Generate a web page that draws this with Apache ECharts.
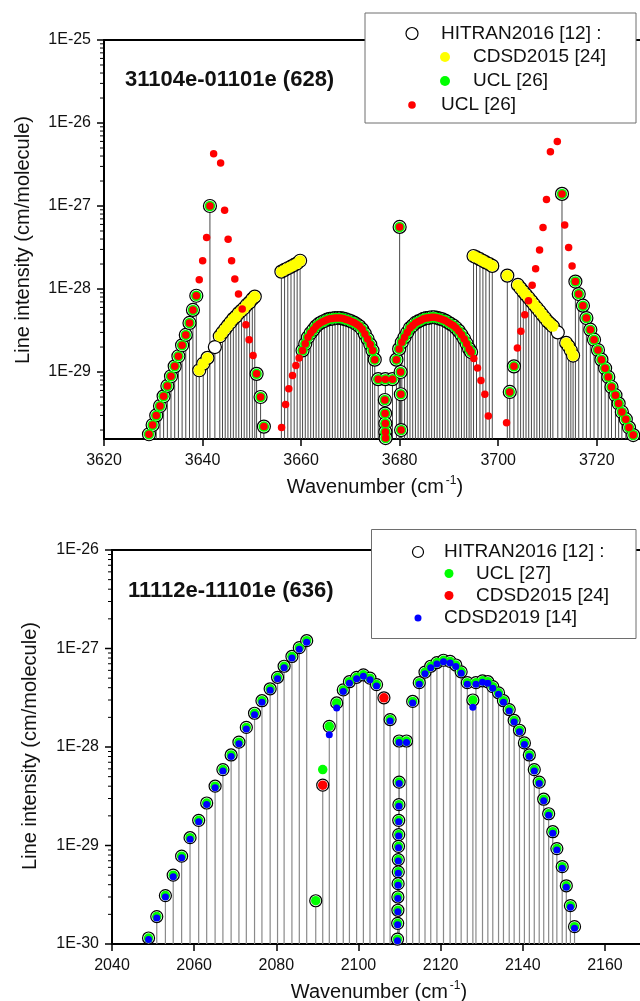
<!DOCTYPE html>
<html><head><meta charset="utf-8">
<script src="https://cdn.jsdelivr.net/npm/echarts@6/dist/echarts.min.js"></script>
<style>html,body{margin:0;padding:0;background:#fff}#c{width:640px;height:1001px}</style>
</head><body><div id="c"></div>
<script>
// ================= Panel 1 : 31104e-01101e (628) =================
// HITRAN lines that coincide with UCL (green + red dot)
const ucl628 = [
 [3629.13,1.78e-30],[3629.87,2.3e-30],[3630.6,3.0e-30],[3631.37,3.9e-30],[3632.1,5.1e-30],[3632.86,6.8e-30],
 [3633.6,8.9e-30],[3634.35,1.17e-29],[3635.1,1.55e-29],[3635.85,2.1e-29],[3636.6,2.8e-29],[3637.35,3.9e-29],
 [3638.05,5.6e-29],[3638.73,8.3e-29],
 [3641.5,1.0e-27],
 [3650.97,9.5e-30],[3651.78,5.0e-30],[3652.45,2.2e-30],
 [3660.3,1.82e-29],[3660.85,2.19e-29],[3661.4,2.63e-29],[3661.95,2.95e-29],[3662.5,3.24e-29],[3663.05,3.55e-29],
 [3663.6,3.8e-29],[3664.15,3.98e-29],[3664.7,4.12e-29],[3665.25,4.27e-29],[3665.8,4.37e-29],[3666.35,4.4e-29],
 [3666.9,4.47e-29],[3667.45,4.47e-29],[3668.0,4.47e-29],[3668.55,4.4e-29],[3669.1,4.3e-29],[3669.65,4.2e-29],
 [3670.2,4.07e-29],[3670.75,3.94e-29],[3671.3,3.76e-29],[3671.85,3.55e-29],[3672.4,3.27e-29],[3672.95,2.88e-29],
 [3673.5,2.5e-29],[3674.05,2.14e-29],[3674.5,1.82e-29],[3674.95,1.41e-29],
 [3675.65,8.2e-30],[3677.1,8.2e-30],[3678.55,8.2e-30],
 [3677.0,4.6e-30],[3677.05,3.16e-30],[3677.1,2.4e-30],[3677.1,1.9e-30],[3677.15,1.6e-30],
 [3680.2,1.0e-29],[3680.25,5.4e-30],[3680.3,2.0e-30],
 [3680.0,5.6e-28],
 [3679.35,1.41e-29],[3679.9,1.9e-29],[3680.45,2.29e-29],[3681.0,2.63e-29],[3681.55,3.0e-29],[3682.1,3.39e-29],
 [3682.65,3.63e-29],[3683.2,3.9e-29],[3683.75,4.07e-29],[3684.3,4.2e-29],[3684.85,4.37e-29],[3685.4,4.47e-29],
 [3685.95,4.5e-29],[3686.5,4.57e-29],[3687.05,4.57e-29],[3687.6,4.5e-29],[3688.15,4.4e-29],[3688.7,4.3e-29],
 [3689.25,4.17e-29],[3689.8,3.98e-29],[3690.35,3.8e-29],[3690.9,3.63e-29],[3691.45,3.39e-29],[3692.0,3.13e-29],
 [3692.55,2.82e-29],[3693.1,2.5e-29],[3693.6,2.19e-29],[3694.1,1.9e-29],[3694.5,1.74e-29],
 [3702.35,5.75e-30],[3703.2,1.17e-29],
 [3712.95,1.4e-27],
 [3715.67,1.23e-28],[3716.35,8.7e-29],[3717.2,6.3e-29],[3717.9,4.47e-29],[3718.7,3.24e-29],[3719.45,2.45e-29],
 [3720.25,1.84e-29],[3720.95,1.41e-29],[3721.7,1.11e-29],[3722.35,8.7e-30],[3723.0,6.6e-30],[3723.8,5.25e-30],
 [3724.45,4.17e-30],[3725.1,3.3e-30],[3725.9,2.7e-30],[3726.55,2.14e-30],[3727.4,1.74e-30]
];
// UCL lines without a HITRAN counterpart (red dots only)
const uclOnly628 = [
 [3639.33,1.29e-28],[3640.02,2.19e-28],[3640.83,4.17e-28],[3642.25,4.27e-27],[3643.67,3.3e-27],[3644.48,8.9e-28],
 [3645.19,3.98e-28],[3645.9,2.19e-28],[3646.55,1.32e-28],[3647.3,8.7e-29],[3648.05,5.75e-29],[3648.8,3.7e-29],
 [3649.45,2.45e-29],[3650.26,1.58e-29],
 [3656.04,2.14e-30],[3656.85,4.07e-30],[3657.5,6.3e-30],[3658.26,9.1e-30],[3658.94,1.2e-29],[3659.6,1.48e-29],
 [3695.05,1.46e-29],[3695.8,1.12e-29],[3696.5,7.9e-30],[3697.3,5.4e-30],[3698.0,2.95e-30],
 [3701.7,2.45e-30],
 [3703.9,1.95e-29],[3704.6,3.1e-29],[3705.4,4.9e-29],[3706.15,7.2e-29],[3706.9,1.11e-28],[3707.6,1.76e-28],
 [3708.4,2.95e-28],[3709.1,5.5e-28],[3709.8,1.2e-27],[3710.6,4.5e-27],[3712.0,6.0e-27],
 [3713.5,5.9e-28],[3714.3,3.16e-28],[3715.0,1.9e-28]
];
// HITRAN lines that coincide with CDSD2015 (yellow)
const cdsd2015_628 = [
 [3639.33,1.05e-29],[3640.14,1.26e-29],[3641.0,1.48e-29],
 [3643.5,2.7e-29],[3644.05,3.0e-29],[3644.6,3.3e-29],[3645.15,3.63e-29],[3645.7,3.98e-29],[3646.25,4.37e-29],
 [3646.8,4.68e-29],[3647.35,5.13e-29],[3647.9,5.5e-29],[3648.45,5.9e-29],[3649.0,6.46e-29],[3649.55,6.9e-29],
 [3650.1,7.6e-29],[3650.6,8.1e-29],
 [3656.0,1.62e-28],[3656.65,1.7e-28],[3657.3,1.78e-28],[3657.95,1.86e-28],[3658.6,1.95e-28],[3659.2,2.04e-28],[3659.8,2.19e-28],
 [3695.0,2.5e-28],[3695.6,2.4e-28],[3696.3,2.29e-28],[3696.9,2.19e-28],[3697.5,2.09e-28],[3698.2,2.0e-28],[3698.8,1.9e-28],
 [3701.85,1.45e-28],
 [3704.0,1.12e-28],[3704.55,1.02e-28],[3705.1,9.3e-29],[3705.65,8.5e-29],[3706.2,7.8e-29],[3706.75,7.1e-29],
 [3707.3,6.46e-29],[3707.85,5.9e-29],[3708.4,5.4e-29],[3708.95,4.9e-29],[3709.5,4.47e-29],[3710.05,4.07e-29],
 [3710.6,3.8e-29],[3711.1,3.55e-29],
 [3713.8,2.24e-29],[3714.3,2.04e-29],[3714.75,1.82e-29],[3715.2,1.58e-29]
];
// HITRAN lines with no match (open circles only)
const hitranOnly628 = [[3642.5,2.0e-29],[3712.1,3.0e-29]];
const yTicks628 = [1e-29,1e-28,1e-27,1e-26,1e-25];

// ================= Panel 2 : 11112e-11101e (636) =================
const hitran636 = [
 [2048.9,1.15e-30],[2050.9,1.9e-30],[2053.0,3.1e-30],[2054.9,5.0e-30],[2056.95,7.8e-30],[2059.0,1.2e-29],
 [2061.1,1.8e-29],[2063.05,2.7e-29],[2065.1,4.0e-29],[2067.0,5.9e-29],[2069.0,8.3e-29],[2070.9,1.12e-28],
 [2072.7,1.58e-28],[2074.7,2.2e-28],[2076.5,2.95e-28],[2078.5,3.9e-28],[2080.3,5.1e-28],[2081.9,6.6e-28],
 [2083.8,8.3e-28],[2085.6,1.02e-27],[2087.4,1.2e-27],
 [2089.6,2.75e-30],[2091.3,4.1e-29],[2092.9,1.62e-28],[2094.7,2.8e-28],[2096.3,3.8e-28],[2097.8,4.6e-28],
 [2099.55,5.1e-28],[2101.2,5.4e-28],[2102.8,5.0e-28],[2104.4,4.3e-28],[2106.2,3.16e-28],[2107.7,1.9e-28],
 [2109.9,1.15e-28],[2111.7,1.15e-28],
 [2109.9,4.4e-29],[2109.85,2.6e-29],[2109.8,1.8e-29],[2109.8,1.29e-29],[2109.75,9.8e-30],[2109.7,7.2e-30],
 [2109.7,5.4e-30],[2109.65,4.1e-30],[2109.6,3.0e-30],[2109.6,2.2e-30],[2109.55,1.62e-30],[2109.5,1.12e-30],
 [2113.2,2.9e-28],[2114.8,4.5e-28],[2116.2,5.75e-28],[2117.6,6.6e-28],[2119.1,7.2e-28],[2120.7,7.6e-28],
 [2122.3,7.4e-28],[2123.7,6.8e-28],[2125.0,5.8e-28],[2126.5,4.5e-28],[2127.85,3.0e-28],
 [2128.6,4.5e-28],[2130.2,4.7e-28],[2131.5,4.6e-28],[2132.7,4.1e-28],[2134.1,3.55e-28],[2135.3,2.95e-28],
 [2136.7,2.4e-28],[2137.9,1.86e-28],[2139.2,1.48e-28],[2140.4,1.1e-28],[2141.6,8.3e-29],[2142.8,5.9e-29],
 [2144.0,4.4e-29],[2145.1,2.95e-29],[2146.3,2.1e-29],[2147.3,1.38e-29],[2148.3,9.3e-30],[2149.6,6.1e-30],
 [2150.6,3.9e-30],[2151.6,2.45e-30],[2152.6,1.5e-30]
];
const cdsd2015_636 = [[2091.3,4.1e-29],[2106.2,3.16e-28]];          // HITRAN = CDSD2015 (red)
const uclOnly636 = [[2091.3,5.9e-29]];                               // UCL line off the HITRAN value
const cdsd2019Diff636 = [[2092.9,1.38e-28],[2094.7,2.57e-28],[2127.85,2.63e-28]]; // CDSD2019 below HITRAN
const noCdsd2019_636 = [2089.6];                                     // HITRAN+UCL only
const yTicks636 = [1e-30,1e-29,1e-28,1e-27,1e-26];

// ---- axes setup ----
const X628 = {min:3620, max:3730, step:20};
const Y628 = {min:1.56e-30, max:1e-25};
const X636 = {min:2040, max:2170, step:20};
const Y636 = {min:1e-30, max:1e-26};

// ---- derived series data ----
const hitran628 = ucl628.concat(cdsd2015_628, hitranOnly628);
const red628 = ucl628.concat(uclOnly628);
const same = (a,b)=>Math.abs(a-b)<1e-6;
const ucl636 = hitran636.filter(p=>!cdsd2015_636.some(q=>same(q[0],p[0]))).concat(uclOnly636);
const cdsd2019_636 = hitran636.filter(p=>!cdsd2015_636.some(q=>same(q[0],p[0]))
   && !noCdsd2019_636.some(x=>same(x,p[0])) && !cdsd2019Diff636.some(q=>same(q[0],p[0]))).concat(cdsd2019Diff636);

const FONT = '"Liberation Sans", Arial, Helvetica, sans-serif';
function expLabel(v){ const e=Math.log10(v); const r=Math.round(e); return Math.abs(e-r)<1e-3 ? '1E'+r : ''; }
function minorTicks(lo,hi){ const out=[]; for(let e=Math.floor(Math.log10(lo)); e<Math.log10(hi); e++){ for(let m=2;m<=9;m++){ const v=m*Math.pow(10,e); if(v>lo && v<hi) out.push(v);} } return out; }

function stems(data, gi, yMin, color, w){
  return {type:'custom', xAxisIndex:gi*2, yAxisIndex:gi, clip:true, silent:true, z:1, animation:false, data,
    renderItem:(p,api)=>{ const t=api.coord([api.value(0),api.value(1)]); const b=api.coord([api.value(0),yMin]);
      return {type:'line', shape:{x1:t[0],y1:b[1],x2:t[0],y2:t[1]}, style:{stroke:color,lineWidth:w}}; }};
}
function minorTickSeries(gi, xMin, lo, hi){
  return {type:'custom', xAxisIndex:gi*2, yAxisIndex:gi, clip:false, silent:true, z:3, animation:false,
    data: minorTicks(lo,hi).map(v=>[xMin,v]),
    renderItem:(p,api)=>{ const t=api.coord([api.value(0),api.value(1)]);
      return {type:'line', shape:{x1:t[0]-4,y1:t[1],x2:t[0],y2:t[1]}, style:{stroke:'#000',lineWidth:1}}; }};
}
// major y ticks + "1E-xx" labels
function yLabelSeries(gi, xMin, ticks){
  return {type:'custom', xAxisIndex:gi*2, yAxisIndex:gi, clip:false, silent:true, z:3, animation:false,
    data: ticks.map(v=>[xMin,v]),
    renderItem:(p,api)=>{ const t=api.coord([api.value(0),api.value(1)]);
      return {type:'group', children:[
        {type:'line', shape:{x1:t[0]-7,y1:t[1],x2:t[0],y2:t[1]}, style:{stroke:'#000',lineWidth:1.5}},
        {type:'text', x:t[0]-13, y:t[1], style:{text:expLabel(api.value(1)), fontSize:16, fontFamily:FONT, fill:'#111', align:'right', verticalAlign:'middle'}}
      ]}; }};
}
function dots(data, gi, size, fill, stroke, bw, z, off){
  return {type:'scatter', xAxisIndex:gi*2, yAxisIndex:gi, data, symbol:'circle', symbolSize:size,
    symbolOffset: off||[0,0], itemStyle:{color:fill, borderColor:stroke||fill, borderWidth:bw||0, opacity:1},
    z, silent:true, animation:false, clip:true};
}
function xAxisPair(gi, X, gap, margin){
  return [
   {gridIndex:gi, type:'value', min:X.min, max:X.max, interval:X.step, position:'bottom',
    axisLine:{onZero:false, lineStyle:{color:'#000', width:2}},
    axisTick:{length:7, lineStyle:{color:'#000', width:1.5}},
    axisLabel:{fontSize:16, color:'#111', fontFamily:FONT, margin, formatter:v=> ((v-X.min)%X.step===0 && v<X.max) ? String(v) : ''},
    splitLine:{show:false},
    name:'{a|Wavenumber (cm}{s|-1}{a|)}', nameLocation:'middle', nameGap:gap, nameMoveOverlap:false,
    nameTextStyle:{color:'#111', fontFamily:FONT, rich:{a:{fontSize:20, fontFamily:FONT, color:'#111'}, s:{fontSize:12, fontFamily:FONT, color:'#111', padding:[0,0,12,2]}}}},
   {gridIndex:gi, type:'value', min:X.min, max:X.max, position:'top',
    axisLine:{onZero:false, lineStyle:{color:'#000', width:2}}, axisTick:{show:false}, axisLabel:{show:false}, splitLine:{show:false}}
  ];
}
function yAxisLog(gi, Y){
  return {gridIndex:gi, type:'log', logBase:10, min:Y.min, max:Y.max,
    axisLine:{show:true, onZero:false, lineStyle:{color:'#000', width:2}},
    axisTick:{show:false}, minorTick:{show:false}, splitLine:{show:false}, axisLabel:{show:false}};
}

const txt = (x,y,text,size,bold)=>({type:'text', x, y, z:102, silent:true,
  style:{text, fontSize:size, fontWeight:bold?'bold':'normal', fontFamily:FONT, fill:'#111', align:'left', verticalAlign:'middle'}});
const vtxt = (x,y,text,size)=>({type:'text', x, y, rotation:Math.PI/2, z:102, silent:true,
  style:{text, fontSize:size, fontFamily:FONT, fill:'#111', align:'center', verticalAlign:'middle'}});
const dot = (cx,cy,r,fill,stroke,lw)=>({type:'circle', z:102, silent:true, shape:{cx,cy,r}, style:{fill, stroke:stroke||null, lineWidth:lw||0}});

const option = {
  animation:false,
  backgroundColor:'#fff',
  grid:[
    {left:104, top:40, width:542, height:399, outerBoundsMode:'none', containLabel:false},
    {left:112, top:550, width:534, height:394, outerBoundsMode:'none', containLabel:false}
  ],
  xAxis:[...xAxisPair(0, X628, 36, 14), ...xAxisPair(1, X636, 36, 14)],
  yAxis:[yAxisLog(0, Y628), yAxisLog(1, Y636)],
  graphic:[
    vtxt(23,240,'Line intensity (cm/molecule)',20),
    vtxt(30,746,'Line intensity (cm/molecule)',20),
    txt(125,80,'31104e-01101e (628)',22,true),
    txt(128,591,'11112e-11101e (636)',22,true),
    {type:'rect', z:100, silent:true, shape:{x:365,y:13,width:271,height:110}, style:{fill:'#fff', stroke:'#6e6e6e', lineWidth:1}},
    dot(412,33.5,6,'#fff','#000',1.2), txt(441,34,'HITRAN2016 [12] :',19),
    dot(445,57,5,'#ffff00'), txt(473,57,'CDSD2015 [24]',19),
    dot(445,81,5,'#00ff00'), txt(473,81,'UCL [26]',19),
    dot(412,105,3.8,'#ff0000'), txt(441,105,'UCL [26]',19),
    {type:'rect', z:100, silent:true, shape:{x:371.5,y:529.5,width:264.5,height:109}, style:{fill:'#fff', stroke:'#6e6e6e', lineWidth:1}},
    dot(418,552,5.5,'#fff','#000',1.2), txt(444,552,'HITRAN2016 [12] :',19),
    dot(449,573.5,4.5,'#00ff00'), txt(476,573.5,'UCL [27]',19),
    dot(449,595.5,4.5,'#ff0000'), txt(476,595.5,'CDSD2015 [24]',19),
    dot(418,618,3.5,'#0000ff'), txt(444,618,'CDSD2019 [14]',19)
  ],
  series:[
    stems(hitran628, 0, Y628.min, '#4a4a4a', 1),
    minorTickSeries(0, X628.min, Y628.min, Y628.max),
    yLabelSeries(0, X628.min, yTicks628),
    dots(hitran628, 0, 13, '#ffffff', '#000', 1.2, 2),
    dots(cdsd2015_628, 0, 11, '#ffff00', null, 0, 3),
    dots(ucl628, 0, 10.5, '#00ff00', null, 0, 4),
    dots(red628, 0, 7.5, '#ff0000', null, 0, 5),

    stems(hitran636, 1, Y636.min, '#8a8a8a', 1.2),
    minorTickSeries(1, X636.min, Y636.min, Y636.max),
    yLabelSeries(1, X636.min, yTicks636),
    dots(hitran636, 1, 12, '#ffffff', '#000', 1.2, 2),
    dots(ucl636, 1, 9.5, '#00ff00', null, 0, 4),
    dots(cdsd2015_636, 1, 9.5, '#ff0000', null, 0, 5),
    dots(cdsd2019_636, 1, 7, '#0000ff', null, 0, 6, [0,1.5])
  ]
};
const chart = echarts.init(document.getElementById('c'), null, {renderer:'canvas'});
chart.setOption(option);
</script></body></html>
